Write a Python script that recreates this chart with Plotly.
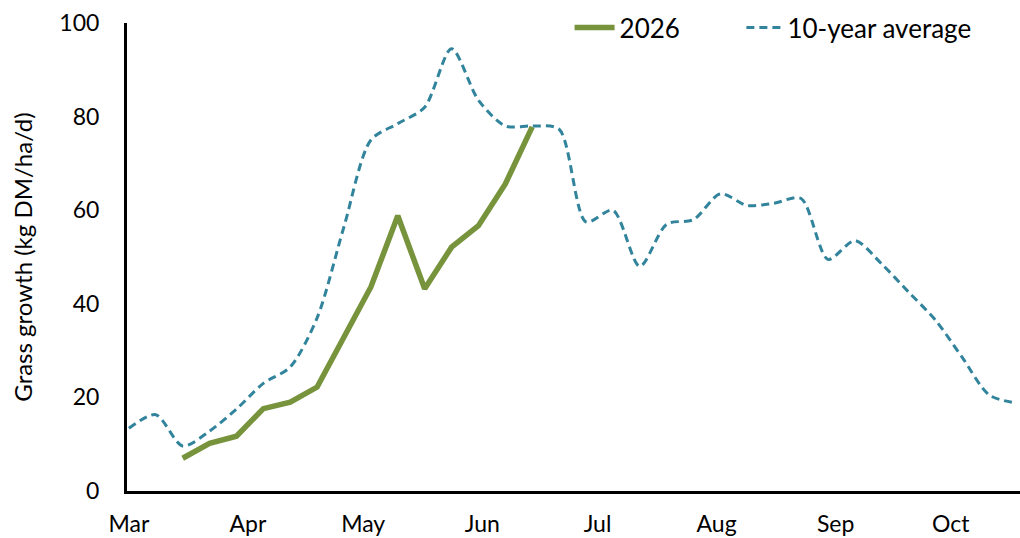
import plotly.graph_objects as go
import pandas as pd

# Weekly dates (2026)
week_dates = pd.date_range("2026-03-01", "2026-10-18", freq="7D").strftime("%Y-%m-%d").tolist()

# 10-year average grass growth (kg DM/ha/d), one value per week from 1 Mar
avg_10yr = [13.4, 16.3, 9.6, 12.8, 17.5, 23.0, 26.5, 37.0, 56.5, 75.0,
            78.5, 82.0, 94.5, 83.5, 78.0, 78.0, 77.3, 57.5, 60.0, 48.0,
            57.0, 58.0, 63.5, 61.0, 61.5, 62.5, 49.5, 53.5, 48.5, 42.5,
            36.5, 28.5, 20.5, 18.8]

# 2026 grass growth, starting 15 Mar
dates_2026 = week_dates[2:16]
growth_2026 = [7.0, 10.2, 11.7, 17.6, 19.0, 22.2, 32.9, 43.6, 58.8, 43.2,
               52.1, 56.7, 65.6, 77.8]

green = "#77933C"
teal = "#31849B"
font_family = "Lato, 'Open Sans', sans-serif"

fig = go.Figure()
fig.add_trace(go.Scatter(
    x=dates_2026, y=growth_2026, name="2026", mode="lines",
    line=dict(color=green, width=5.5), legend="legend",
))
fig.add_trace(go.Scatter(
    x=week_dates, y=avg_10yr, name="10-year average", mode="lines",
    line=dict(color=teal, width=3, dash="8px,5px", shape="spline", smoothing=0.8),
    legend="legend2",
))

fig.update_layout(
    width=1020, height=538,
    margin=dict(l=127, r=0, t=23, b=47),
    paper_bgcolor="white", plot_bgcolor="white",
    font=dict(family=font_family, size=23, color="#000000"),
    showlegend=True,
    legend=dict(x=0.4956, xanchor="left", y=0.99, yanchor="middle",
                font=dict(size=26), bgcolor="rgba(0,0,0,0)", itemwidth=40),
    legend2=dict(x=0.688, xanchor="left", y=0.99, yanchor="middle",
                 font=dict(size=26), bgcolor="rgba(0,0,0,0)", itemwidth=36),
)
fig.update_xaxes(
    type="date", range=["2026-02-28 12:00", "2026-10-19"],
    dtick="M1", tick0="2026-03-01", tickformat="%b",
    showgrid=False, zeroline=False,
    showline=True, linecolor="black", linewidth=3,
    ticks="", ticklabelstandoff=10, automargin=False,
    tickfont=dict(size=23),
)
fig.update_yaxes(
    range=[0, 100], dtick=20,
    showgrid=False, zeroline=False,
    showline=True, linecolor="black", linewidth=3,
    ticks="", ticklabelstandoff=20, automargin=False,
    tickfont=dict(size=23),
    title=dict(text="Grass growth (kg DM/ha/d)", font=dict(size=24), standoff=20),
)

fig.write_html(
    "out.html",
    config={"displayModeBar": False},
    post_script="document.body.style.margin='0px'; document.body.style.overflow='hidden';",
)
